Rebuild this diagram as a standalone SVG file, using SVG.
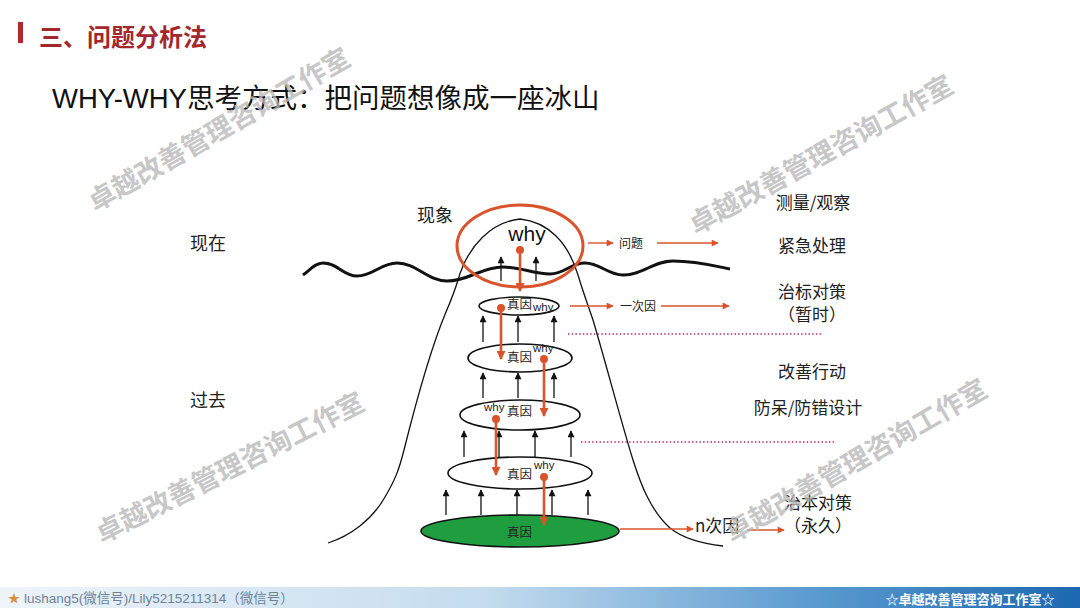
<svg xmlns="http://www.w3.org/2000/svg" width="1080" height="608" viewBox="0 0 1080 608">
<defs>
<linearGradient id="foot" x1="0" y1="0" x2="1" y2="0">
<stop offset="0" stop-color="#eef4fa"/>
<stop offset="0.45" stop-color="#c4dcee"/>
<stop offset="0.75" stop-color="#5b9bd0"/>
<stop offset="1" stop-color="#1c68b0"/>
</linearGradient>
<marker id="ao" viewBox="0 0 10 10" refX="9" refY="5" markerWidth="9" markerHeight="7" orient="auto" markerUnits="userSpaceOnUse"><path d="M0,0 L10,5 L0,10 z" fill="#d9542c"/></marker>
<marker id="aov" viewBox="0 0 10 10" refX="9" refY="5" markerWidth="10" markerHeight="9" orient="auto" markerUnits="userSpaceOnUse"><path d="M0,0 L10,5 L0,10 z" fill="#d9542c"/></marker>
<marker id="ab" viewBox="0 0 10 10" refX="9" refY="5" markerWidth="8" markerHeight="7" orient="auto" markerUnits="userSpaceOnUse"><path d="M0,0 L10,5 L0,10 z" fill="#111"/></marker>
</defs>
<style>
text{font-family:"Liberation Sans","Noto Sans CJK SC",sans-serif;}
.cjk{font-family:"Noto Sans CJK SC","Liberation Sans",sans-serif;}
.lbl{font-size:17px;fill:#222;text-anchor:middle;}
.small{font-size:12px;fill:#222;}
.why{font-size:11.5px;fill:#222;}
.in{font-size:12.5px;fill:#222;}
.blk{stroke:#111;stroke-width:1.3;fill:none;marker-end:url(#ab);}
.ov{stroke:#d9542c;stroke-width:2.6;fill:none;marker-end:url(#aov);}
.oh{stroke:#d9542c;stroke-width:1.4;fill:none;marker-end:url(#ao);}
.dot{fill:#d9542c;}
.ell{fill:#fff;stroke:#111;stroke-width:1.6;}
.dash{stroke:#b5306a;stroke-width:1.5;stroke-dasharray:1.5 2.2;fill:none;}
.wm{font-family:"Noto Sans CJK SC",sans-serif;font-size:27px;font-weight:bold;fill:#b8b8b8;fill-opacity:0.8;text-anchor:middle;dominant-baseline:central;}
</style>
<rect width="1080" height="608" fill="#fff"/>

<g id="title">
<rect x="18" y="22" width="5" height="21" fill="#b0282c"/>
<text class="cjk" x="39" y="46" font-size="24" font-weight="bold" fill="#a3282c">三、问题分析法</text>
</g>
<g id="subtitle">
<text x="52" y="108" font-size="27.5" fill="#111">WHY-WHY思考方式：把问题想像成一座冰山</text>
</g>

<g id="iceberg">
<path d="M328,543 C350,536 372,520 385,497 C395,480 399,470 404,450 C414,410 430,350 446,312 C452,298 455,290 458,280 C468,245 492,222 520,219 C548,222 568,242 578,275 C583,292 588,305 593,320 C605,360 622,425 633,460 C640,482 650,510 670,528 C685,540 705,544 723,546" fill="none" stroke="#111" stroke-width="1.3"/>
</g>
<g id="waterline">
<path d="M303,275 C310,270 315,263 323,263 C338,263 343,276 357,276 C373,276 381,263 397,263 C417,263 427,281 447,281 C469,281 481,267 503,267 C522,267 532,274 550,274 C565,274 570,263 585,263 C600,263 608,275 623,275 C643,275 653,261 673,261 C696,261 715,266 730,269" fill="none" stroke="#111" stroke-width="3"/>
</g>

<g id="e1"><ellipse class="ell" cx="519" cy="306" rx="40" ry="9"/><text class="cjk in" x="507" y="309">真因</text><text class="why" x="533" y="311">why</text></g>
<g id="e2"><ellipse class="ell" cx="520" cy="358" rx="52" ry="14"/><text class="cjk in" x="507" y="362">真因</text><text class="why" x="533" y="352">why</text></g>
<g id="e3"><ellipse class="ell" cx="520" cy="415" rx="60" ry="15"/><text class="why" x="484" y="411">why</text><text class="cjk in" x="507" y="416">真因</text></g>
<g id="e4"><ellipse class="ell" cx="520" cy="473" rx="72" ry="16"/><text class="cjk in" x="507" y="479">真因</text><text class="why" x="534" y="469">why</text></g>
<g id="e5"><ellipse cx="520" cy="531" rx="99" ry="16" fill="#1f9e3f" stroke="#111" stroke-width="1.6"/><text class="cjk in" x="507" y="537">真因</text></g>

<g id="phenomenon">
<ellipse cx="520" cy="246" rx="63" ry="41" fill="none" stroke="#d9542c" stroke-width="3"/>
<text x="527" y="241" font-size="21" fill="#111" text-anchor="middle">why</text>
</g>

<g id="connectors">
<line class="blk" x1="501" y1="281" x2="501" y2="257"/>
<line class="blk" x1="536" y1="281" x2="536" y2="257"/>
<line class="blk" x1="483" y1="342" x2="483" y2="316"/>
<line class="blk" x1="518" y1="342" x2="518" y2="316"/>
<line class="blk" x1="554" y1="342" x2="554" y2="316"/>
<line class="blk" x1="483" y1="398" x2="483" y2="373"/>
<line class="blk" x1="518" y1="398" x2="518" y2="373"/>
<line class="blk" x1="554" y1="398" x2="554" y2="373"/>
<line class="blk" x1="464" y1="457" x2="464" y2="431"/>
<line class="blk" x1="499" y1="457" x2="499" y2="431"/>
<line class="blk" x1="535" y1="457" x2="535" y2="431"/>
<line class="blk" x1="571" y1="457" x2="571" y2="431"/>
<line class="blk" x1="446" y1="515" x2="446" y2="490"/>
<line class="blk" x1="481" y1="515" x2="481" y2="490"/>
<line class="blk" x1="517" y1="515" x2="517" y2="490"/>
<line class="blk" x1="552" y1="515" x2="552" y2="490"/>
<line class="blk" x1="588" y1="515" x2="588" y2="490"/>

<circle class="dot" cx="520" cy="250" r="4"/><line class="ov" x1="520" y1="250" x2="520" y2="291"/>
<circle class="dot" cx="501" cy="308" r="4"/><line class="ov" x1="501" y1="308" x2="501" y2="359"/>
<circle class="dot" cx="544" cy="359" r="4"/><line class="ov" x1="544" y1="359" x2="544" y2="416"/>
<circle class="dot" cx="496" cy="419" r="4"/><line class="ov" x1="496" y1="419" x2="496" y2="475"/>
<circle class="dot" cx="544" cy="477" r="4"/><line class="ov" x1="544" y1="477" x2="544" y2="525"/>

<line class="oh" x1="588" y1="243" x2="613" y2="243"/>
<line class="oh" x1="657" y1="243" x2="718" y2="243"/>
<line class="oh" x1="570" y1="306" x2="613" y2="306"/>
<line class="oh" x1="661" y1="306" x2="729" y2="306"/>
<line class="oh" x1="620" y1="529" x2="693" y2="529"/>
<line class="oh" x1="747" y1="530" x2="784" y2="530"/>

<line class="dash" x1="568" y1="334" x2="823" y2="334"/>
<line class="dash" x1="581" y1="442" x2="835" y2="442"/>
</g>

<g id="labels">
<text class="cjk" x="417" y="222" font-size="18" fill="#222">现象</text>
<text class="cjk" x="190" y="250" font-size="18" fill="#222">现在</text>
<text class="cjk" x="190" y="407" font-size="18" fill="#222">过去</text>
<text class="cjk small" x="619" y="248">问题</text>
<text class="cjk small" x="620" y="311">一次因</text>
<text x="695" y="532" font-size="17" fill="#222" class="cjk">n次因</text>
<text class="cjk lbl" x="813" y="209">测量/观察</text>
<text class="cjk lbl" x="812" y="252">紧急处理</text>
<text class="cjk lbl" x="812" y="298" font-size="16.5">治标对策</text>
<text class="cjk lbl" x="812" y="321" font-size="16.5">（暂时）</text>
<text class="cjk lbl" x="812" y="378">改善行动</text>
<text class="cjk lbl" x="808" y="414">防呆/防错设计</text>
<text class="cjk lbl" x="818" y="509" font-size="16.5">治本对策</text>
<text class="cjk lbl" x="818" y="532" font-size="16.5">（永久）</text>
</g>

<g id="watermarks">
<text class="wm" transform="translate(218,128) rotate(-30)">卓越改善管理咨询工作室</text>
<text class="wm" transform="translate(820,153) rotate(-29)">卓越改善管理咨询工作室</text>
<text class="wm" transform="translate(229,466) rotate(-27)">卓越改善管理咨询工作室</text>
<text class="wm" transform="translate(855,459) rotate(-30)">卓越改善管理咨询工作室</text>
</g>

<g id="footer">
<rect x="0" y="587" width="1080" height="21" fill="url(#foot)"/>
<text x="8" y="603" font-size="12" fill="#d98c3a">★</text>
<text x="24" y="603" font-size="13.5" fill="#6f8297">lushang5(微信号)/Lily5215211314（微信号）</text>
<text class="cjk" x="970" y="604" font-size="13" font-weight="bold" fill="#fff" text-anchor="middle">☆卓越改善管理咨询工作室☆</text>
</g>
</svg>
